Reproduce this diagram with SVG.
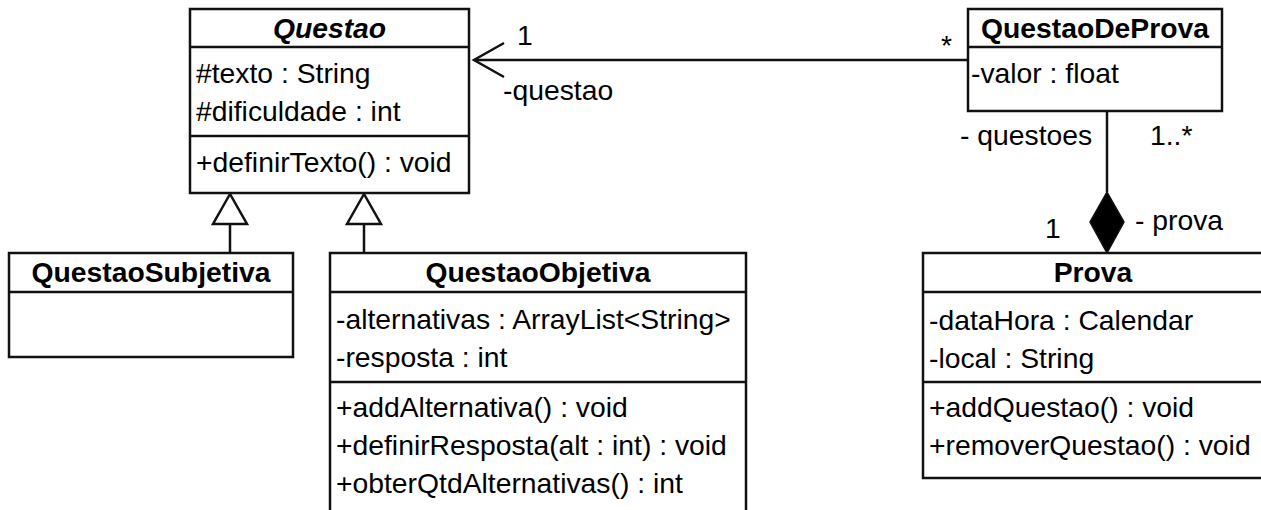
<svg xmlns="http://www.w3.org/2000/svg" width="1261" height="510" viewBox="0 0 1261 510">
<style>
.box{fill:#fff;stroke:#111;stroke-width:2.5}
.ln{stroke:#111;stroke-width:2.5;fill:none}
text{font-family:"Liberation Sans",Arial,sans-serif;font-size:28.3px;fill:#000}
.t{font-weight:bold;text-anchor:middle}
.i{font-style:italic}
</style>
<rect width="1261" height="510" fill="#fff"/>
<g id="connectors">
<line class="ln" x1="474" y1="60" x2="968" y2="60"/>
<polyline class="ln" points="504,43 474,60 504,77"/>
<line class="ln" x1="230" y1="224" x2="230" y2="253"/>
<polygon class="ln" points="230,194 213,224 247,224" fill="#fff"/>
<line class="ln" x1="364" y1="224" x2="364" y2="253"/>
<polygon class="ln" points="364,194 347,224 381,224" fill="#fff"/>
<line class="ln" x1="1107" y1="111" x2="1107" y2="192"/>
<polygon points="1107,192 1124,222 1107,253 1090,222" fill="#000" stroke="#111" stroke-width="1.5"/>
<text x="517" y="45">1</text>
<text x="503" y="100">-questao</text>
<text x="941" y="55">*</text>
<text x="960" y="145">- questoes</text>
<text x="1150" y="145">1..*</text>
<text x="1045" y="238">1</text>
<text x="1135" y="230">- prova</text>
</g>
<g id="Questao">
<rect class="box" x="190" y="9" width="279" height="184"/>
<line class="ln" x1="190" y1="47" x2="469" y2="47"/>
<line class="ln" x1="190" y1="136" x2="469" y2="136"/>
<text class="t i" x="329.5" y="38">Questao</text>
<text x="196" y="83">#texto : String</text>
<text x="196" y="121">#dificuldade : int</text>
<text x="196" y="172">+definirTexto() : void</text>
</g>
<g id="QuestaoDeProva">
<rect class="box" x="968" y="9" width="254" height="102"/>
<line class="ln" x1="968" y1="47" x2="1222" y2="47"/>
<text class="t" x="1095" y="38">QuestaoDeProva</text>
<text x="971" y="83">-valor : float</text>
</g>
<g id="QuestaoSubjetiva">
<rect class="box" x="9" y="253" width="284" height="104"/>
<line class="ln" x1="9" y1="292" x2="293" y2="292"/>
<text class="t" x="151" y="282">QuestaoSubjetiva</text>
</g>
<g id="QuestaoObjetiva">
<rect class="box" x="330" y="253" width="416" height="280"/>
<line class="ln" x1="330" y1="292" x2="746" y2="292"/>
<line class="ln" x1="330" y1="382" x2="746" y2="382"/>
<text class="t" x="538" y="282">QuestaoObjetiva</text>
<text x="336" y="329">-alternativas : ArrayList&lt;String&gt;</text>
<text x="336" y="367">-resposta : int</text>
<text x="336" y="417">+addAlternativa() : void</text>
<text x="336" y="455">+definirResposta(alt : int) : void</text>
<text x="336" y="493">+obterQtdAlternativas() : int</text>
</g>
<g id="Prova">
<rect class="box" x="923" y="253" width="340" height="225"/>
<line class="ln" x1="923" y1="292" x2="1263" y2="292"/>
<line class="ln" x1="923" y1="382" x2="1263" y2="382"/>
<text class="t" x="1093" y="282">Prova</text>
<text x="929" y="330">-dataHora : Calendar</text>
<text x="929" y="368">-local : String</text>
<text x="929" y="417">+addQuestao() : void</text>
<text x="929" y="455">+removerQuestao() : void</text>
</g>
</svg>
